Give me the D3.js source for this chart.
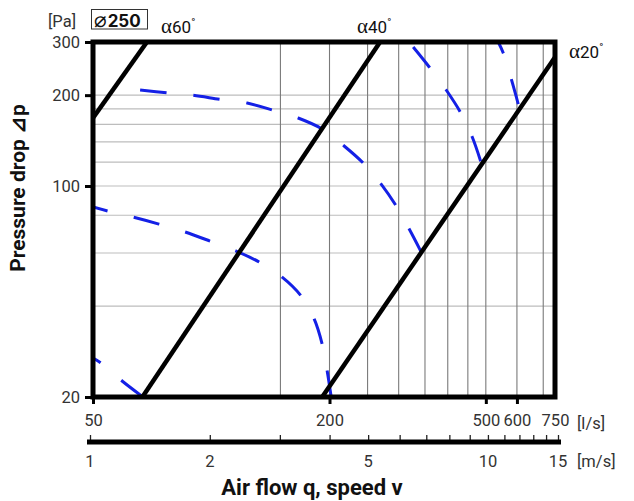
<!DOCTYPE html>
<html>
<head>
<meta charset="utf-8">
<script src="https://cdn.jsdelivr.net/npm/d3@7/dist/d3.min.js"></script>
<style>
  html, body { margin: 0; padding: 0; background: #fff; }
  svg { display: block; }
  text { font-family: Roboto, "Liberation Sans", sans-serif; }
</style>
</head>
<body>
<svg id="chart" width="634" height="501"></svg>
<script>
// ---------- data ----------
const flowTicks = [50, 200, 500, 600, 750];                 // l/s, labelled
const flowGrid = [150, 200, 250, 300, 350, 400, 450, 500, 600, 700];
const pressureTicks = [20, 100, 200, 300];                  // Pa, labelled
const pressureGrid = [40, 60, 80, 100, 120, 140, 160, 180, 200];
const speedTicks = [1, 2, 3, 4, 5, 6, 7, 8, 9, 10, 11, 12, 13, 14, 15]; // m/s
const speedLabels = [1, 2, 5, 10, 15];

const damperNames = ["α60°", "α40°", "α20°"];
const damper60 = [[50, 168], [68.6, 300]];
const damper40 = [[66.8, 20], [269, 300]];
const damper20 = [[191.6, 20], [750, 267]];

const fan1Q = [50, 52.4, 59.3, 67];
const fan1P = [26.9, 25.9, 22.6, 20];
const fan2Q = [50, 54.6, 63.2, 73.6, 85.8, 99.3, 115.7, 132.4, 151.5, 169.4, 182.8, 191.5, 197.3, 202];
const fan2P = [85.2, 82.6, 78.9, 74.8, 70.4, 65.7, 60.9, 56.0, 49.9, 43.2, 36.3, 30.0, 24.4, 20];
const fan3Q = [65.9, 77.2, 89.9, 105.3, 123.4, 142.9, 166.4, 191.5, 217.9, 243.6, 270.7, 295.6, 319.1, 342.4];
const fan3P = [208, 203.7, 199.8, 193.7, 188.3, 178.6, 168, 154.5, 135.7, 119.2, 101.5, 85.9, 72, 60.4];
const fan4Q = [326.6, 358.8, 396.4, 430.4, 461.7, 486.7];
const fan4P = [288.7, 247.9, 208, 175.9, 145.3, 119.2];
const fan5Q = [537.8, 553.8, 580.4, 604.6];
const fan5P = [300, 275.8, 226.2, 186.9];

// ---------- layout ----------
const L = 93, R = 555, T = 42, B = 397;
const svg = d3.select("#chart");
const FS = 16.5;
const TF = "Roboto, sans-serif";

const x = d3.scaleLog().domain([50, 750]).range([L, R]);
const y = d3.scaleLog().domain([20, 300]).range([B, T]);
const v = d3.scaleLog().domain([1, 15]).range([90, 558]);

svg.append("defs").append("clipPath").attr("id", "plotclip")
  .append("rect").attr("x", L).attr("y", T).attr("width", R - L).attr("height", B - T);

// grid
const grid = svg.append("g");
grid.selectAll(".hg").data(pressureGrid).join("line")
  .attr("x1", L).attr("x2", R).attr("y1", d => y(d)).attr("y2", d => y(d))
  .attr("stroke", "#bdbdbd").attr("stroke-width", 1.2);
grid.selectAll(".vg").data(flowGrid).join("line")
  .attr("x1", d => x(d)).attr("x2", d => x(d)).attr("y1", T).attr("y2", B)
  .attr("stroke", "#7a7a7a").attr("stroke-width", 1.1);

// y axis (left)
const yAxis = d3.axisLeft(y).tickValues(pressureTicks).tickFormat(d3.format("d")).tickSize(8).tickPadding(5);
const gy = svg.append("g").attr("transform", `translate(${L},0)`).call(yAxis);
gy.select(".domain").remove();
gy.selectAll(".tick line").attr("stroke", "#000").attr("stroke-width", 3);
gy.selectAll(".tick text").attr("font-size", FS).attr("fill", "#333").attr("font-family", TF);

// x axis flow (bottom of frame)
const xAxis = d3.axisBottom(x).tickValues(flowTicks).tickFormat(d3.format("d")).tickSize(7).tickPadding(10);
const gx = svg.append("g").attr("transform", `translate(0,${B})`).call(xAxis);
gx.select(".domain").remove();
gx.selectAll(".tick line").attr("stroke", "#000").attr("stroke-width", 3)
  .attr("display", d => (d === 750 ? "none" : null));
gx.selectAll(".tick text").attr("font-size", FS).attr("fill", "#333").attr("font-family", TF);
svg.append("text").attr("x", 577).attr("y", 429).attr("font-size", FS).attr("fill", "#333").text("[l/s]");

// speed axis
const vY = 442;
const vAxis = d3.axisTop(v).tickValues(speedTicks).tickFormat("").tickSize(7);
const gv = svg.append("g").attr("transform", `translate(0,${vY})`).call(vAxis);
gv.select(".domain").remove();
gv.selectAll(".tick line").attr("stroke", "#222").attr("stroke-width", 1.3);
svg.append("line").attr("x1", 87).attr("x2", 561).attr("y1", vY).attr("y2", vY)
  .attr("stroke", "#000").attr("stroke-width", 5);
svg.append("g").selectAll("text").data(speedLabels).join("text")
  .attr("x", d => v(d)).attr("y", 467).attr("text-anchor", "middle")
  .attr("font-size", FS).attr("fill", "#333").text(d => d);
svg.append("text").attr("x", 577).attr("y", 467).attr("font-size", FS).attr("fill", "#333").text("[m/s]");

// curves
const plot = svg.append("g").attr("clip-path", "url(#plotclip)");
const lineGen = d3.line().x(d => x(d[0])).y(d => y(d[1]));
const curveGen = d3.line().x(d => x(d[0])).y(d => y(d[1])).curve(d3.curveCatmullRom.alpha(0.5));

const fans = [
  { q: fan1Q, p: fan1P, off: 17.6 },
  { q: fan2Q, p: fan2P, off: 11.5 },
  { q: fan3Q, p: fan3P, off: 0 },
  { q: fan4Q, p: fan4P, off: 0 },
  { q: fan5Q, p: fan5P, off: 14 }
];
fans.forEach(f => {
  plot.append("path").datum(f.q.map((q, i) => [q, f.p[i]]))
    .attr("d", curveGen).attr("fill", "none")
    .attr("stroke", "#1420e6").attr("stroke-width", 3)
    .attr("stroke-dasharray", "26.5 27").attr("stroke-dashoffset", f.off);
});

[damper60, damper40, damper20].forEach(d => {
  plot.append("path").datum(d).attr("d", lineGen).attr("fill", "none")
    .attr("stroke", "#000").attr("stroke-width", 4.5);
});

// frame
svg.append("rect").attr("x", L).attr("y", T).attr("width", R - L).attr("height", B - T)
  .attr("fill", "none").attr("stroke", "#000").attr("stroke-width", 5);

// damper labels
const labelPos = [[161, 33], [357, 33], [569, 58]];
damperNames.forEach((n, i) => {
  const t = svg.append("text").attr("x", labelPos[i][0]).attr("y", labelPos[i][1])
    .attr("font-size", 17).attr("fill", "#111");
  t.append("tspan").attr("font-family", "'Liberation Serif', 'DejaVu Serif', serif").attr("font-size", 21).text(n[0]);
  t.append("tspan").text(n.slice(1, -1));
  t.append("tspan").attr("font-size", 11).attr("dy", -7).text(n.slice(-1));
});

// header
svg.append("text").attr("x", 48).attr("y", 27).attr("font-size", FS).attr("fill", "#333").text("[Pa]");
svg.append("rect").attr("x", 91.5).attr("y", 9.5).attr("width", 56).attr("height", 19.5)
  .attr("fill", "none").attr("stroke", "#333").attr("stroke-width", 1);
const dt = svg.append("text").attr("x", 94).attr("y", 26.5).attr("fill", "#111");
dt.append("tspan").attr("font-family", "'DejaVu Sans', sans-serif").attr("font-size", 21).text("⌀");
dt.append("tspan").attr("font-family", "Inter, sans-serif").attr("font-weight", "bold").attr("font-size", 17).attr("dx", 1).text("250");

// titles
svg.append("text").attr("x", 312).attr("y", 495).attr("text-anchor", "middle").attr("font-family", "Inter, sans-serif")
  .attr("font-size", 22).attr("font-weight", "bold").attr("fill", "#111").text("Air flow q, speed v");
svg.append("text").attr("transform", "translate(25,188) rotate(-90)").attr("text-anchor", "middle").attr("font-family", "Inter, sans-serif")
  .attr("font-size", 21).attr("font-weight", "bold").attr("fill", "#111").text("Pressure drop ⊿p");
</script>
</body>
</html>
